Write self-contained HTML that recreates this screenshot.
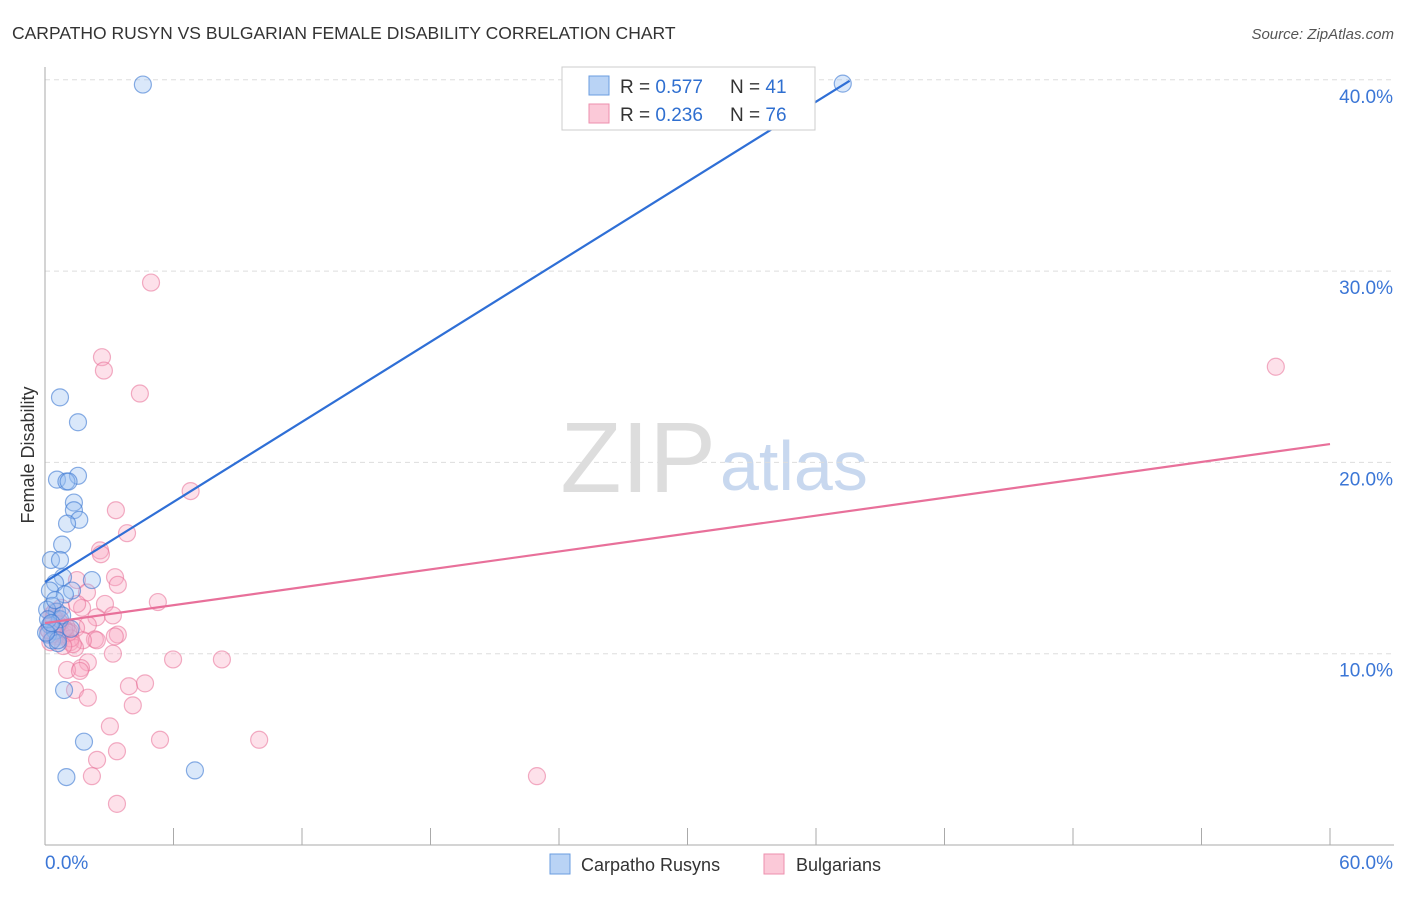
<!DOCTYPE html>
<html><head><meta charset="utf-8"><style>
body{margin:0;background:#fff;font-family:"Liberation Sans",sans-serif}
svg text{font-family:"Liberation Sans",sans-serif}
</style></head><body>
<svg id="c" width="1406" height="892">
<text x="12" y="39" font-size="17.5" fill="#333">CARPATHO RUSYN VS BULGARIAN FEMALE DISABILITY CORRELATION CHART</text>
<text x="1394" y="39" font-size="15" fill="#555" font-style="italic" text-anchor="end">Source: ZipAtlas.com</text>
<text x="716" y="492" font-size="100" fill="#ddd" text-anchor="end" font-family="Liberation Serif">ZIP</text>
<text x="720" y="490" font-size="70" fill="#c8d8ef">atlas</text>
<text transform="translate(34,455) rotate(-90)" font-size="18" fill="#333" text-anchor="middle">Female Disability</text>
<g id="grid"></g><g id="pts"></g><g id="lines"></g>
<g>
<rect x="562" y="67" width="253" height="63" fill="#fff" stroke="#ccc"/>
<rect x="589" y="76" width="20" height="19" fill="#b9d3f5" stroke="#6a9de0"/>
<rect x="589" y="104" width="20" height="19" fill="#fbc9d8" stroke="#ee8fae"/>
<text x="620" y="93" font-size="19" fill="#333">R = <tspan fill="#2f6fd0">0.577</tspan></text>
<text x="730" y="93" font-size="19" fill="#333">N = <tspan fill="#2f6fd0">41</tspan></text>
<text x="620" y="121" font-size="19" fill="#333">R = <tspan fill="#2f6fd0">0.236</tspan></text>
<text x="730" y="121" font-size="19" fill="#333">N = <tspan fill="#2f6fd0">76</tspan></text>
</g>
<g>
<rect x="550" y="854" width="20" height="20" fill="#b9d3f5" stroke="#6a9de0"/>
<text x="581" y="871" font-size="18" fill="#333">Carpatho Rusyns</text>
<rect x="764" y="854" width="20" height="20" fill="#fbc9d8" stroke="#ee8fae"/>
<text x="796" y="871" font-size="18" fill="#333">Bulgarians</text>
</g>
</svg>
<script>
const xTicks=[0,60];
const yTicks=[10,20,30,40];
const blueX=[4.57,37.25,0.7,1.54,1.54,0.56,1.0,1.1,1.35,1.35,1.6,1.03,0.8,0.28,0.7,0.84,2.19,0.47,0.23,1.26,0.33,0.56,0.7,0.8,0.23,0.47,0.14,0.33,0.6,0.89,1.82,1.0,7.0,0.1,0.93,0.47,0.14,0.6,0.05,1.2,0.3];
const blueY=[39.75,39.8,23.4,22.1,19.3,19.1,19.0,19.0,17.9,17.5,17.0,16.8,15.7,14.9,14.9,14.0,13.85,13.7,13.3,13.3,12.5,12.2,11.8,12.0,11.5,11.2,11.0,10.7,10.55,8.1,5.4,3.55,3.9,12.3,13.1,12.8,11.8,10.7,11.1,11.3,11.6];
const pinkX=[4.95,2.66,2.75,4.43,57.47,6.8,3.31,3.83,2.57,2.61,3.27,3.4,1.49,1.96,5.27,2.8,1.73,3.17,2.4,2.0,1.45,1.17,0.93,0.7,3.4,3.26,2.33,2.42,1.77,1.17,1.4,3.17,5.98,8.26,2.0,1.68,1.03,1.63,1.4,2.0,3.92,4.67,4.1,3.03,5.37,10.0,3.36,2.43,2.19,22.97,3.36,0.3,0.5,0.6,0.4,0.2,0.8,1.0,1.2,0.3,0.5,0.7,0.9,0.25,0.45,0.65,0.35,0.55,0.15,1.1,1.3,0.75,0.85,0.4,0.6,1.5];
const pinkY=[29.4,25.5,24.8,23.6,25.0,18.5,17.5,16.3,15.4,15.2,14.0,13.6,13.85,13.2,12.7,12.6,12.4,12.0,11.9,11.5,11.35,11.15,11.05,10.9,11.0,10.9,10.75,10.7,10.7,10.6,10.3,10.0,9.7,9.7,9.55,9.25,9.15,9.1,8.1,7.7,8.3,8.45,7.3,6.2,5.5,5.5,4.9,4.45,3.6,3.6,2.15,11.5,11.3,11.1,11.8,11.2,11.0,11.4,10.8,12.0,10.9,11.6,11.3,10.6,12.2,11.7,11.0,11.45,11.25,11.1,10.5,12.4,10.4,11.9,11.55,12.6];
const blueLine=[0,13.75,37.57,39.95];
const pinkLine=[0,11.6,60,20.96];
const X=v=>45+v*(1285/60), Y=v=>845-v*19.13;
const NS='http://www.w3.org/2000/svg';
function mk(t,a,p){const e=document.createElementNS(NS,t);for(const k in a)e.setAttribute(k,a[k]);p.appendChild(e);return e;}
const grid=document.getElementById('grid');
yTicks.forEach(t=>{const l=mk('line',{x1:45,x2:1394,y1:Y(t),y2:Y(t),stroke:'#ddd','stroke-dasharray':'5,4'},grid);


const tx=mk('text',{x:1393,y:Y(t)+23,'font-size':19,fill:'#3b76d6','text-anchor':'end'},grid);tx.textContent=t.toFixed(1)+'%';

});
mk('line',{x1:45,x2:45,y1:67,y2:845,stroke:'#aaa'},grid);
mk('line',{x1:45,x2:1394,y1:845,y2:845,stroke:'#aaa'},grid);
for(let i=1;i<=10;i++){const x=45+i*128.5;mk('line',{x1:x,x2:x,y1:828,y2:845,stroke:'#aaa'},grid);}
xTicks.forEach((t,i)=>{const tx=mk('text',{x:i?1393:45,y:869,'font-size':19,fill:'#3b76d6','text-anchor':i?'end':'start'},grid);tx.textContent=t.toFixed(1)+'%';

});
const pts=document.getElementById('pts');
pinkX.forEach((v,i)=>{const c=mk('circle',{cx:X(v),cy:Y(pinkY[i]),r:8.5,fill:'rgba(248,170,195,0.35)',stroke:'rgba(232,110,150,0.55)','stroke-width':1.2},pts);

});
blueX.forEach((v,i)=>{const c=mk('circle',{cx:X(v),cy:Y(blueY[i]),r:8.5,fill:'rgba(150,190,240,0.35)',stroke:'rgba(60,120,210,0.6)','stroke-width':1.2},pts);

});
const ln=document.getElementById('lines');
const b=mk('line',{x1:X(blueLine[0]),y1:Y(blueLine[1]),x2:X(blueLine[2]),y2:Y(blueLine[3]),stroke:'#2f6fd6','stroke-width':2.2},ln);


const p=mk('line',{x1:X(pinkLine[0]),y1:Y(pinkLine[1]),x2:X(pinkLine[2]),y2:Y(pinkLine[3]),stroke:'#e8709a','stroke-width':2.2},ln);


</script>
</body></html>
